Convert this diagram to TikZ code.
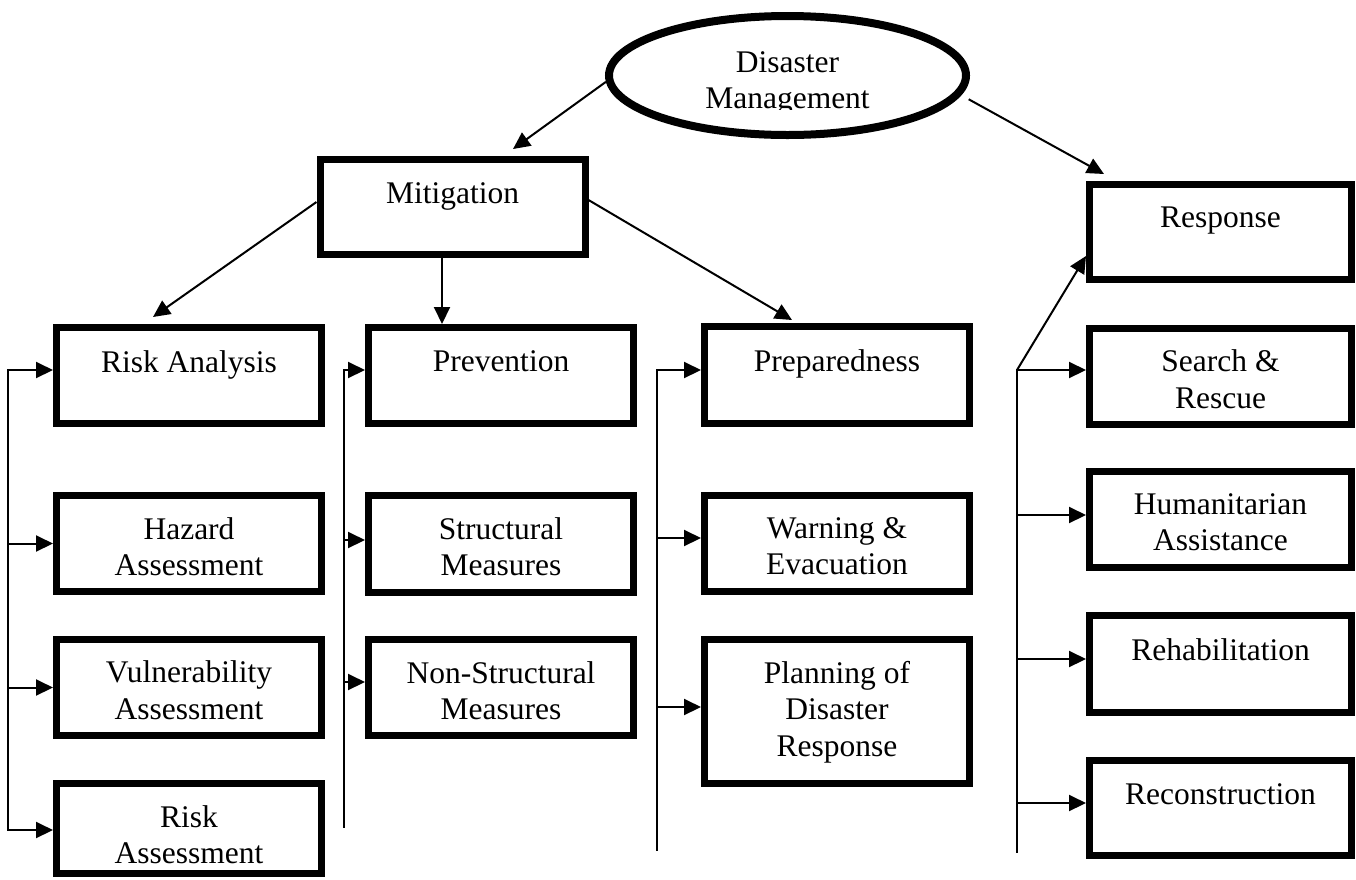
\documentclass[tikz,border=0pt]{standalone}
\usepackage{fontspec}
\setmainfont{Liberation Serif}
\usetikzlibrary{shapes.geometric,arrows.meta}
\begin{document}
\begin{tikzpicture}[x=1pt,y=-1pt,
  box/.style={draw,line width=7pt,minimum width=265pt,minimum height=96pt,inner sep=0pt},
  txt/.style={font=\fontsize{31.5}{36.5}\selectfont,align=center,inner sep=0pt,anchor=north},
  conn/.style={line width=2pt,line cap=rect},
  arr/.style={line width=2pt,-{Triangle[length=17pt,width=16pt]}}]
\useasboundingbox (0,0) rectangle (1356,879);

% root
\node[ellipse,draw,line width=8pt,minimum width=357pt,minimum height=119pt,inner sep=0pt] (dm) at (787.5,75.5) {};
\begin{scope}
  \clip (600,0) rectangle (980,109);
  \node[txt] (dmt) at (787.5,51) {Disaster\\Management};
\end{scope}

% second level
\node[box,minimum height=95pt] (mit) at (452.5,207) {};
\node[txt] (mitt) at ([yshift=-26pt]mit.north) {Mitigation};
\node[box,minimum width=262pt,minimum height=95pt] (resp) at (1220.5,232) {};
\node[txt] (respt) at ([yshift=-26pt]resp.north) {Response};

% column 1
\node[box] (ra) at (189,375.5) {};
\node[txt] (rat) at ([yshift=-26pt]ra.north) {Risk Analysis};
\node[box] (ha) at (189,543.5) {};
\node[txt] (hat) at ([yshift=-25pt]ha.north) {Hazard\\Assessment};
\node[box] (va) at (189,687) {};
\node[txt] (vat) at ([yshift=-25pt]va.north) {Vulnerability\\Assessment};
\node[box,minimum height=90pt] (rsa) at (189,828.5) {};
\node[txt] (rsat) at ([yshift=-25pt]rsa.north) {Risk\\Assessment};

% column 2
\node[box] (prev) at (501,375.5) {};
\node[txt] (prevt) at ([yshift=-26pt]prev.north) {Prevention};
\node[box,minimum height=97pt] (str) at (501,544) {};
\node[txt] (strt) at ([yshift=-25pt]str.north) {Structural\\Measures};
\node[box] (nstr) at (501,687.5) {};
\node[txt] (nstrt) at ([yshift=-25pt]nstr.north) {Non-Structural\\Measures};

% column 3
\node[box,minimum height=97pt] (prep) at (837,375) {};
\node[txt] (prept) at ([yshift=-26pt]prep.north) {Preparedness};
\node[box] (warn) at (837,543.5) {};
\node[txt] (warnt) at ([yshift=-25pt]warn.north) {Warning \&\\Evacuation};
\node[box,minimum height=144pt] (plan) at (837,711.5) {};
\node[txt] (plant) at ([yshift=-25pt]plan.north) {Planning of\\Disaster\\Response};

% column 4
\node[box,minimum width=262pt] (sr) at (1220.5,376) {};
\node[txt] (srt) at ([yshift=-25pt]sr.north) {Search \&\\Rescue};
\node[box,minimum width=262pt] (hum) at (1220.5,519.5) {};
\node[txt] (humt) at ([yshift=-25pt]hum.north) {Humanitarian\\Assistance};
\node[box,minimum width=262pt,minimum height=97pt] (reh) at (1220.5,664) {};
\node[txt] (reht) at ([yshift=-26pt]reh.north) {Rehabilitation};
\node[box,minimum width=262pt,minimum height=95pt] (rec) at (1220.5,808) {};
\node[txt] (rect) at ([yshift=-26pt]rec.north) {Reconstruction};

% top connectors
\draw[arr] (dm.182) -- ([xshift=60.5pt,yshift=7pt]mit.north);
\draw[arr] ([xshift=12pt]dm.352) -- ([xshift=-116.5pt,yshift=7pt]resp.north);
\draw[arr] ([yshift=5pt]mit.west) -- ([xshift=-36pt,yshift=7pt]ra.north);
\draw[arr] ([xshift=-10.5pt]mit.south) -- ([xshift=-59pt]prev.north);
\draw[arr] ([yshift=7pt]mit.east) -- ([xshift=-45pt,yshift=3pt]prep.north);

% bracket 1
\coordinate (b1t) at (8,370);
\coordinate (b1h) at (8,543.5);
\coordinate (b1v) at (8,687.5);
\coordinate (b1b) at (8,830);
\draw[conn] (b1t) -- (b1b);
\draw[arr] (b1t) -- (b1t -| ra.west);
\draw[arr] (b1h) -- (b1h -| ha.west);
\draw[arr] (b1v) -- (b1v -| va.west);
\draw[arr] (b1b) -- (b1b -| rsa.west);

% bracket 2
\coordinate (b2t) at (344,370);
\coordinate (b2s) at (344,540);
\coordinate (b2n) at (344,682);
\coordinate (b2b) at (344,827);
\draw[conn] (b2t) -- (b2b);
\draw[arr] (b2t) -- (b2t -| prev.west);
\draw[arr] (b2s) -- (b2s -| str.west);
\draw[arr] (b2n) -- (b2n -| nstr.west);

% bracket 3
\coordinate (b3t) at (657,370);
\coordinate (b3w) at (657,538);
\coordinate (b3p) at (657,707);
\coordinate (b3b) at (657,850);
\draw[conn] (b3t) -- (b3b);
\draw[arr] (b3t) -- (b3t -| prep.west);
\draw[arr] (b3w) -- (b3w -| warn.west);
\draw[arr] (b3p) -- (b3p -| plan.west);

% bracket 4
\coordinate (b4t) at (1017,370);
\coordinate (b4h) at (1017,515);
\coordinate (b4r) at (1017,659);
\coordinate (b4c) at (1017,803);
\coordinate (b4b) at (1017,852);
\draw[conn] (b4t) -- (b4b);
\draw[arr] (b4t) -- ([yshift=-24pt]resp.west);
\draw[arr] (b4t) -- (b4t -| sr.west);
\draw[arr] (b4h) -- (b4h -| hum.west);
\draw[arr] (b4r) -- (b4r -| reh.west);
\draw[arr] (b4c) -- (b4c -| rec.west);
\end{tikzpicture}
\end{document}
